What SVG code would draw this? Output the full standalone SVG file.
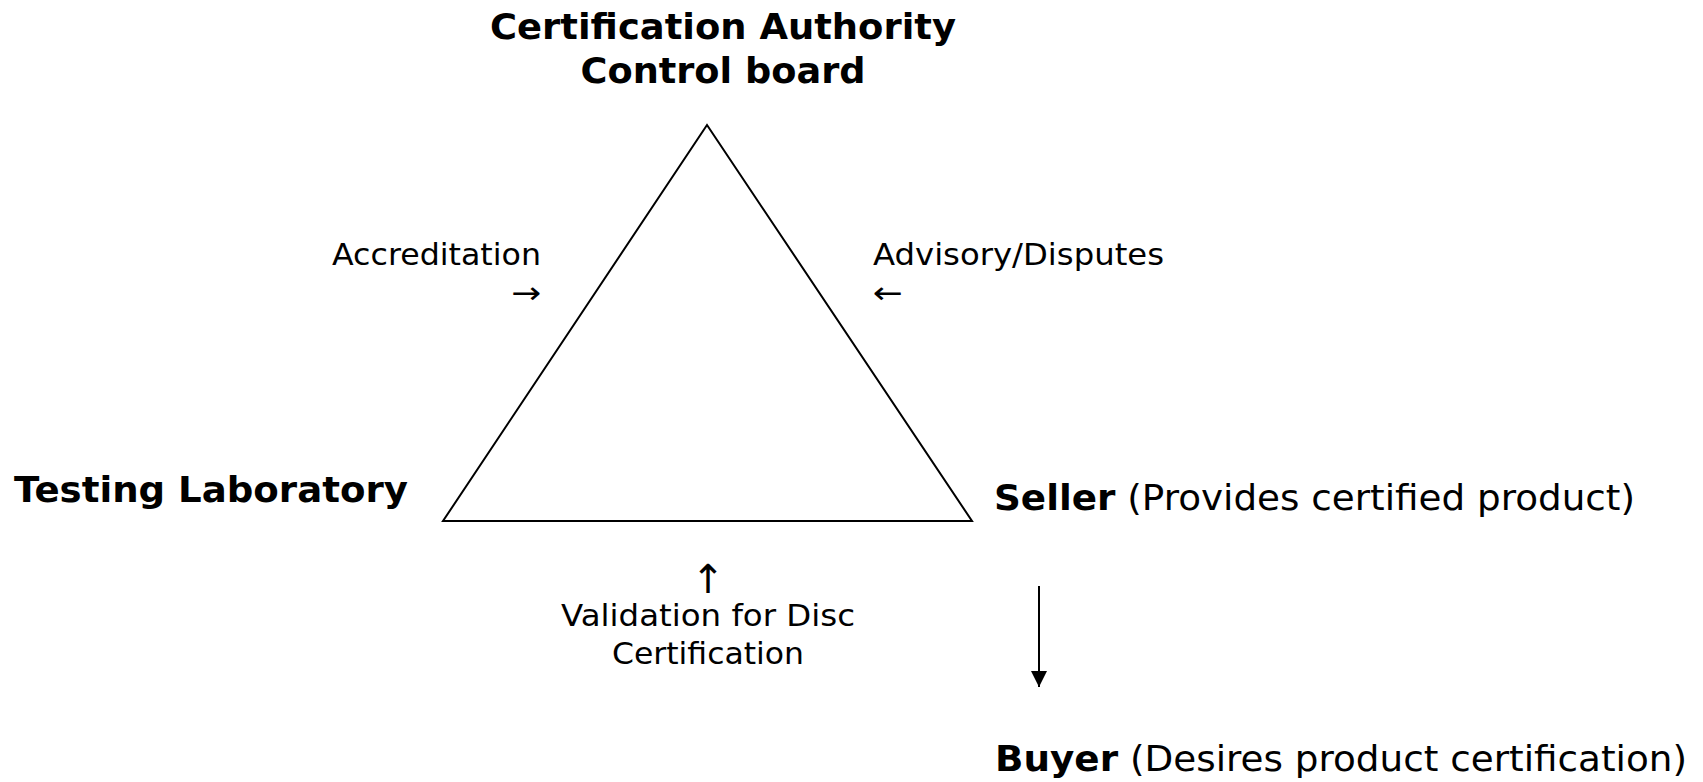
<svg xmlns="http://www.w3.org/2000/svg" width="1703" height="782" viewBox="0 0 1703 782">
<style>
text{font-family:"DejaVu Sans","Liberation Sans",sans-serif;fill:#000}
.b{font-weight:bold}
.t{font-size:35px}
.r{font-size:30px}
.m{font-size:35px}
</style>
<defs>
<marker id="ah" markerWidth="16" markerHeight="16" refX="16" refY="8" orient="auto" markerUnits="userSpaceOnUse" viewBox="0 0 16 16">
<path d="M0,0 L16,8 L0,16 Z" fill="#000"/>
</marker>
</defs>
<rect width="1703" height="782" fill="#fff"/>
<g id="triangle">
<polygon points="707,125 443,521 972,521" fill="none" stroke="#000" stroke-width="2"/>
</g>
<g id="ca">
<text class="b t" x="723" y="39" text-anchor="middle" textLength="466" lengthAdjust="spacingAndGlyphs">Certification Authority</text>
<text class="b t" x="723" y="83" text-anchor="middle" textLength="285" lengthAdjust="spacingAndGlyphs">Control board</text>
</g>
<g id="lab">
<text class="b m" x="14" y="502" textLength="394" lengthAdjust="spacingAndGlyphs">Testing Laboratory</text>
</g>
<g id="seller">
<text class="m" x="994" y="510" textLength="641" lengthAdjust="spacingAndGlyphs"><tspan class="b">Seller</tspan> (Provides certified product)</text>
</g>
<g id="buyer">
<text class="m" x="995" y="771" textLength="692" lengthAdjust="spacingAndGlyphs"><tspan class="b">Buyer</tspan> (Desires product certification)</text>
</g>
<g id="labels">
<text class="r" x="332" y="265" textLength="209" lengthAdjust="spacingAndGlyphs">Accreditation</text>
<text class="r" x="511" y="303" textLength="30" lengthAdjust="spacingAndGlyphs">→</text>
<text class="r" x="873" y="265" textLength="291" lengthAdjust="spacingAndGlyphs">Advisory/Disputes</text>
<text class="r" x="873" y="303" textLength="30" lengthAdjust="spacingAndGlyphs">←</text>
<text x="708" y="593" text-anchor="middle" style="font-size:40px">↑</text>
<text class="r" x="708" y="626" text-anchor="middle" textLength="294" lengthAdjust="spacingAndGlyphs">Validation for Disc</text>
<text class="r" x="708" y="664" text-anchor="middle" textLength="192" lengthAdjust="spacingAndGlyphs">Certification</text>
</g>
<g id="connectors">
<line x1="1039" y1="586" x2="1039" y2="687" stroke="#000" stroke-width="2" marker-end="url(#ah)"/>
</g>
</svg>
